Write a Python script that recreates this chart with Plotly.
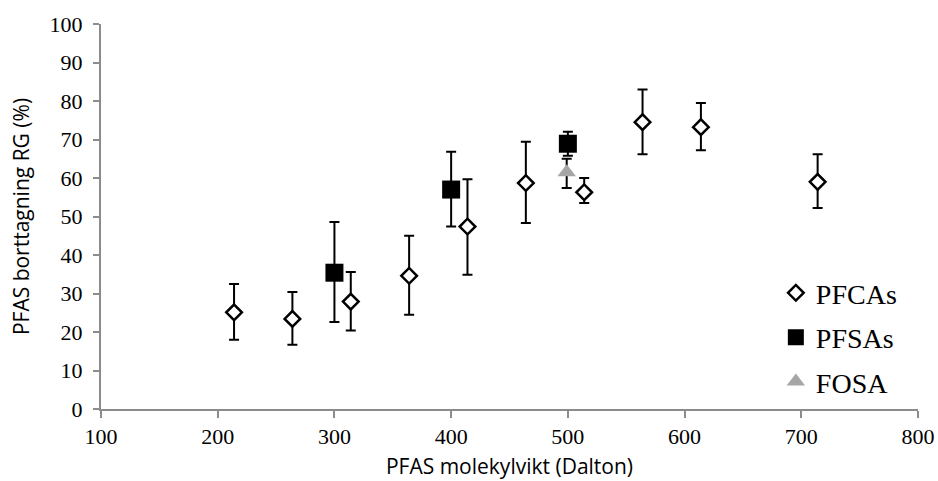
import plotly.graph_objects as go

# PFCAs (open diamonds)
pfca_x = [214, 264, 314, 364, 414, 464, 514, 564, 614, 714]
pfca_y = [25.1, 23.4, 27.9, 34.6, 47.4, 58.7, 56.3, 74.5, 73.2, 59.0]
pfca_plus = [7.4, 7.0, 7.7, 10.4, 12.3, 10.7, 3.7, 8.5, 6.3, 7.2]
pfca_minus = [7.1, 6.7, 7.5, 10.1, 12.5, 10.4, 2.8, 8.3, 6.0, 6.8]

# PFSAs (filled squares)
pfsa_x = [300, 400, 500]
pfsa_y = [35.4, 57.0, 68.9]
pfsa_plus = [13.2, 9.8, 3.1]
pfsa_minus = [12.8, 9.6, 3.1]

# FOSA (grey triangle)
fosa_x = [499]
fosa_y = [61.5]
fosa_plus = [3.5]
fosa_minus = [4.1]

x_ticks = [100, 200, 300, 400, 500, 600, 700, 800]
y_ticks = [0, 10, 20, 30, 40, 50, 60, 70, 80, 90, 100]

serif = "Liberation Serif, Times New Roman, serif"
sans = "Open Sans, Noto Sans, sans-serif"
axis_col = "#8c8c8c"

def err(plus, minus):
    return dict(type="data", symmetric=False, array=plus, arrayminus=minus,
                color="black", thickness=2, width=5)

fig = go.Figure()
fig.add_trace(go.Scatter(
    x=pfca_x, y=pfca_y, mode="markers", name="PFCAs", legendgroup="a",
    error_y=err(pfca_plus, pfca_minus),
    marker=dict(symbol="diamond", size=12, color="white",
                line=dict(color="black", width=2.5)),
))
fig.add_trace(go.Scatter(
    x=pfsa_x, y=pfsa_y, mode="markers", name="PFSAs", legendgroup="b",
    error_y=err(pfsa_plus, pfsa_minus),
    marker=dict(symbol="square", size=18, color="black",
                line=dict(color="black", width=0)),
))
fig.add_trace(go.Scatter(
    x=fosa_x, y=fosa_y, mode="markers", name="FOSA", legendgroup="c",
    error_y=err(fosa_plus, fosa_minus),
    marker=dict(symbol="triangle-up", size=16, color="#a6a6a6",
                line=dict(color="#a6a6a6", width=0)),
))

fig.update_layout(
    width=938, height=481,
    margin=dict(l=101, r=20, t=24, b=72),
    plot_bgcolor="white", paper_bgcolor="white",
    showlegend=True,
    legend=dict(x=0.826, y=0.366, xanchor="left", yanchor="top",
                font=dict(family=serif, size=28, color="black"),
                bgcolor="rgba(0,0,0,0)", tracegroupgap=5,
                itemsizing="trace"),
    xaxis=dict(range=[100, 800], tickvals=x_ticks, ticktext=[str(v) for v in x_ticks],
               showgrid=False, zeroline=False, showline=True, automargin=False,
               linecolor=axis_col, linewidth=2,
               ticks="outside", ticklen=7, tickwidth=2, tickcolor=axis_col,
               tickfont=dict(family=serif, size=22, color="black"),
               title=dict(text="PFAS molekylvikt (Dalton)",
                          font=dict(family=sans, size=21, color="black"),
                          standoff=11)),
    yaxis=dict(range=[0, 100], tickvals=y_ticks, ticktext=[str(v) for v in y_ticks],
               showgrid=False, zeroline=False, showline=True, automargin=False,
               linecolor=axis_col, linewidth=2,
               ticks="outside", ticklen=6, tickwidth=2, tickcolor=axis_col,
               tickfont=dict(family=serif, size=22, color="black"),
               ticklabelstandoff=6,
               title=dict(text="PFAS borttagning RG (%)",
                          font=dict(family=sans, size=21, color="black"),
                          standoff=14)),
)

fig.write_html("out.html")
